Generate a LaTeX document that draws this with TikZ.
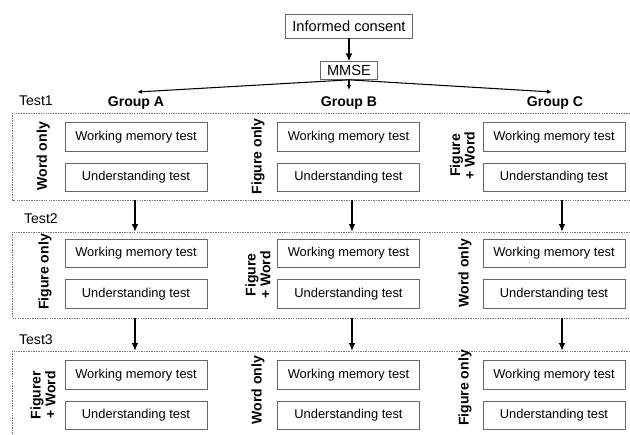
\documentclass[tikz,border=0pt]{standalone}
\usepackage{fontspec}
\setmainfont{Liberation Sans}
\usepackage{tikz}
\usetikzlibrary{arrows.meta, positioning}

\begin{document}
\begin{tikzpicture}[
        node distance=0.33cm and 1cm,
        testbox/.style={rectangle, draw=black!60, line width=0.6pt, minimum width=4.26cm, minimum height=0.86cm, font=\fontsize{11}{13}\selectfont},
        topbox/.style={rectangle, draw=black!60, line width=0.6pt, inner sep=0pt, font=\fontsize{12.5}{14}\selectfont},
        condition/.style={rotate=90, align=center, font=\bfseries\fontsize{12}{12.5}\selectfont},
        group/.style={font=\bfseries\fontsize{12}{14}\selectfont},
        testlabel/.style={anchor=west, font=\fontsize{12}{14}\selectfont},
        panel/.style={draw=black!55, line width=0.5pt, dash pattern=on 1.2pt off 0.9pt},
        arrow/.style={-{Latex[length=2.4mm, width=2mm]}, line width=1.4pt},
        thinarrow/.style={-{Latex[length=1.5mm, width=1.3mm]}, line width=0.9pt}
    ]

        \useasboundingbox (0,0) rectangle (18.9,-13.05);

        % Start
        \node[topbox, minimum width=3.81cm, minimum height=0.72cm] (consent) at (10.47, -0.78) {Informed consent};
        \node[topbox, minimum width=1.71cm, minimum height=0.53cm] (mmse) at (10.47, -2.12) {MMSE};
        \coordinate (toA) at (4.11, -2.76);
        \coordinate (toB) at (10.47, -2.70);
        \coordinate (toC) at (16.56, -2.76);

        % Groups
        \node[group] (grpA) at (4.08, -3.09) {Group A};
        \node[group] (grpB) at (10.47, -3.09) {Group B};
        \node[group] (grpC) at (16.65, -3.09) {Group C};

        % Panels
        \coordinate (p1nw) at (0.375, -3.39);
        \coordinate (p1se) at (18.9, -6.0);
        \coordinate (p2nw) at (0.375, -6.96);
        \coordinate (p2se) at (18.9, -9.54);
        \coordinate (p3nw) at (0.375, -10.53);
        \coordinate (p3se) at (18.9, -13.05);
        \draw[panel] (p1se |- p1nw) -| (p1nw |- p1se) -- (p1se);
        \draw[panel] (p2se |- p2nw) -| (p2nw |- p2se) -- (p2se);
        \draw[panel] (p3se |- p3nw) -| (p3nw |- p3se);

        \node[testlabel] (test1) at (0.45, -3.03) {Test1};
        \node[testlabel] (test2) at (0.6, -6.57) {Test2};
        \node[testlabel] (test3) at (0.45, -10.2) {Test3};

        % Test 1
        \node[testbox] (wmA1) at (4.08, -4.11) {Working memory test};
        \node[testbox, below=of wmA1] (uA1) {Understanding test};
        \node[testbox] (wmB1) at (10.455, -4.11) {Working memory test};
        \node[testbox, below=of wmB1] (uB1) {Understanding test};
        \node[testbox] (wmC1) at (16.62, -4.11) {Working memory test};
        \node[testbox, below=of wmC1] (uC1) {Understanding test};
        \node[condition] (cA1) at (1.3, -4.69) {Word only};
        \node[condition] (cB1) at (7.74, -4.69) {Figure only};
        \node[condition] (cC1) at (13.87, -4.66) {Figure\\+ Word};

        % Test 2
        \node[testbox] (wmA2) at (4.08, -7.6) {Working memory test};
        \node[testbox, below=of wmA2] (uA2) {Understanding test};
        \node[testbox] (wmB2) at (10.455, -7.6) {Working memory test};
        \node[testbox, below=of wmB2] (uB2) {Understanding test};
        \node[testbox] (wmC2) at (16.62, -7.6) {Working memory test};
        \node[testbox, below=of wmC2] (uC2) {Understanding test};
        \node[condition] (cA2) at (1.35, -8.16) {Figure only};
        \node[condition] (cB2) at (7.74, -8.25) {Figure\\+ Word};
        \node[condition] (cC2) at (13.95, -8.19) {Word only};

        % Test 3
        \node[testbox] (wmA3) at (4.08, -11.25) {Working memory test};
        \node[testbox, below=of wmA3] (uA3) {Understanding test};
        \node[testbox] (wmB3) at (10.455, -11.25) {Working memory test};
        \node[testbox, below=of wmB3] (uB3) {Understanding test};
        \node[testbox] (wmC3) at (16.62, -11.25) {Working memory test};
        \node[testbox, below=of wmC3] (uC3) {Understanding test};
        \node[condition] (cA3) at (1.29, -11.85) {Figurer\\+ Word};
        \node[condition] (cB3) at (7.74, -11.7) {Word only};
        \node[condition] (cC3) at (13.95, -11.64) {Figure only};

        % Arrows
        \draw[arrow] (consent) -- (mmse);
        \draw[thinarrow] (mmse.south) -- (toA);
        \draw[thinarrow] (mmse.south) -- (toB);
        \draw[thinarrow] (mmse.south) -- (toC);

        \coordinate (colA) at (4.05, 0);
        \coordinate (colB) at (10.56, 0);
        \coordinate (colC) at (16.86, 0);
        \draw[arrow] (colA |- p1se) -- (colA |- p2nw);
        \draw[arrow] (colB |- p1se) -- (colB |- p2nw);
        \draw[arrow] (colC |- p1se) -- (colC |- p2nw);
        \draw[arrow] (colA |- p2se) -- (colA |- p3nw);
        \draw[arrow] (colB |- p2se) -- (colB |- p3nw);
        \draw[arrow] (colC |- p2se) -- (colC |- p3nw);

    \end{tikzpicture}
\end{document}
